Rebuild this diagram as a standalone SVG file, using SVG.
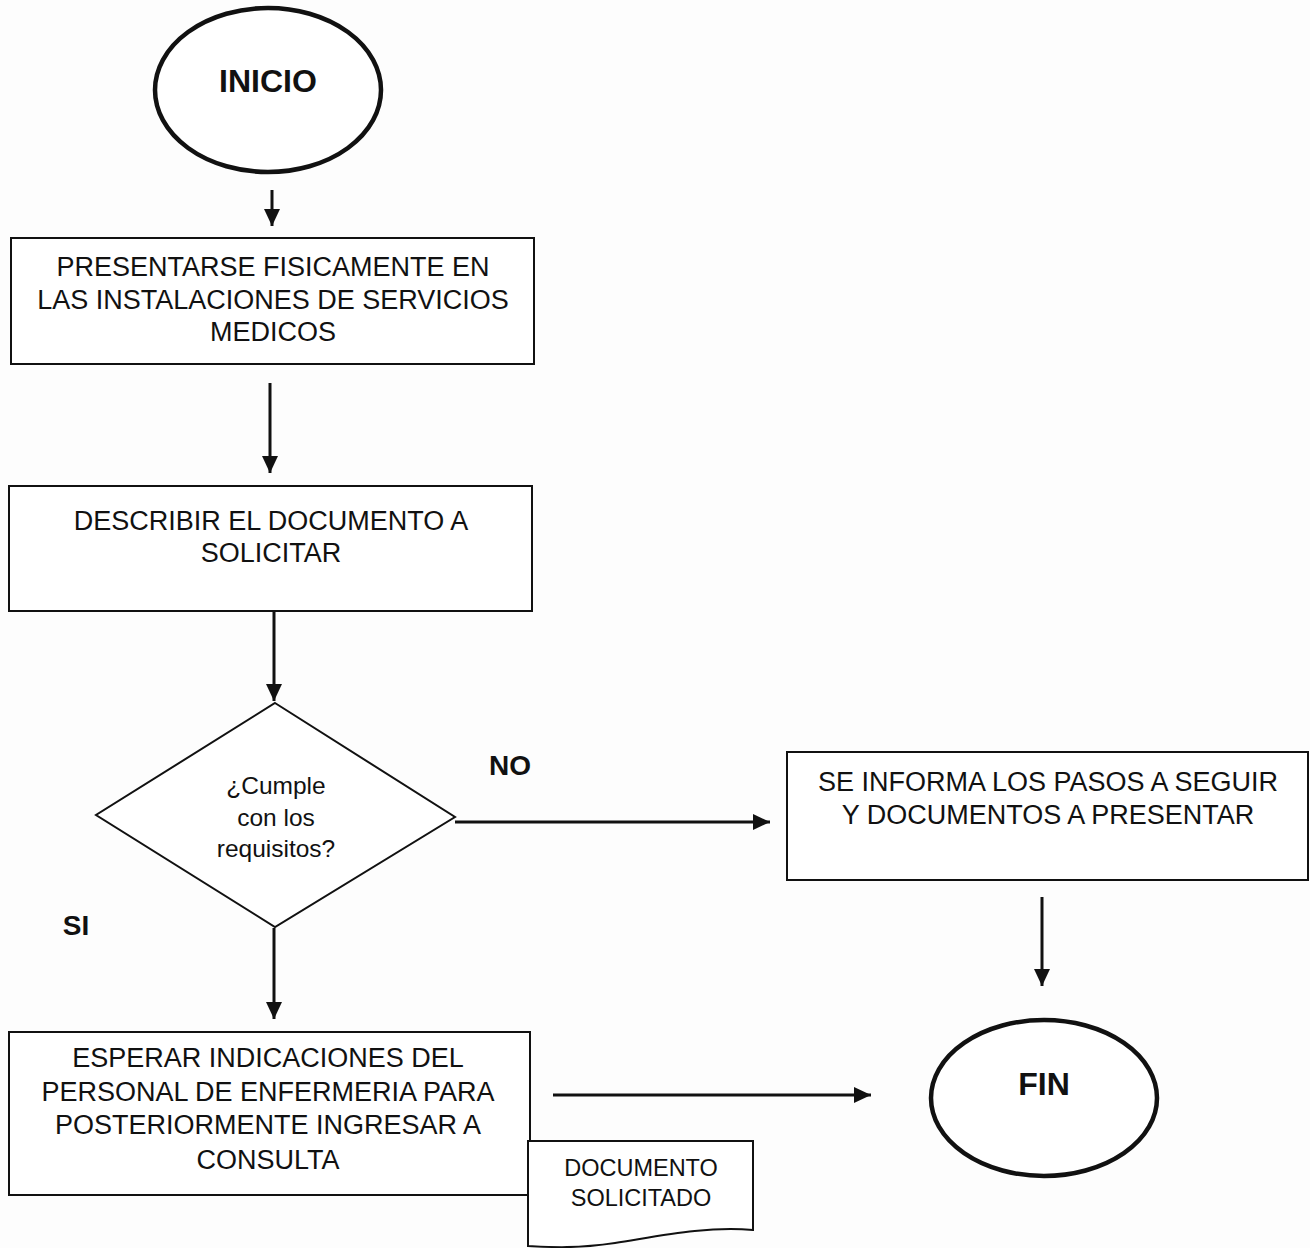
<svg xmlns="http://www.w3.org/2000/svg" width="1310" height="1248" viewBox="0 0 1310 1248">
<defs>
<marker id="ah" markerUnits="userSpaceOnUse" markerWidth="17" markerHeight="17" viewBox="0 0 17 17" refX="17" refY="8.5" orient="auto">
<path d="M0,0.5 L17,8.5 L0,16.5 Z" fill="#111"/>
</marker>
</defs>
<style>
.bg{fill:#fdfdfd}
.box{fill:#fff;stroke:#111;stroke-width:2}
.term{fill:#fff;stroke:#111;stroke-width:4.5}
.t{font-family:"Liberation Sans",Arial,sans-serif;font-size:27px;fill:#111;text-anchor:middle}
.d{font-family:"Liberation Sans",Arial,sans-serif;font-size:24.5px;fill:#111;text-anchor:middle}
.s{font-family:"Liberation Sans",Arial,sans-serif;font-size:23.5px;fill:#111;text-anchor:middle}
.b{font-family:"Liberation Sans",Arial,sans-serif;font-weight:bold;fill:#111;text-anchor:middle}
.c{stroke:#111;stroke-width:3;fill:none;marker-end:url(#ah)}
</style>
<rect class="bg" x="0" y="0" width="1310" height="1248"/>
<g id="inicio">
<ellipse class="term" cx="268" cy="90" rx="113" ry="82"/>
<text class="b" x="268" y="91.5" font-size="32">INICIO</text>
</g>
<g id="presentarse">
<rect class="box" x="11" y="238" width="523" height="126"/>
<text class="t" x="273" y="276">PRESENTARSE FISICAMENTE EN</text>
<text class="t" x="273" y="309">LAS INSTALACIONES DE SERVICIOS</text>
<text class="t" x="273" y="341">MEDICOS</text>
</g>
<g id="describir">
<rect class="box" x="9" y="486" width="523" height="125"/>
<text class="t" x="271" y="530">DESCRIBIR EL DOCUMENTO A</text>
<text class="t" x="271" y="562">SOLICITAR</text>
</g>
<g id="decision">
<polygon class="box" points="275,703 455,817 275,927 96,815"/>
<text class="d" x="276" y="794">¿Cumple</text>
<text class="d" x="276" y="826">con los</text>
<text class="d" x="276" y="857">requisitos?</text>
</g>
<g id="informa">
<rect class="box" x="787" y="752" width="521" height="128"/>
<text class="t" x="1048" y="791">SE INFORMA LOS PASOS A SEGUIR</text>
<text class="t" x="1048" y="824">Y DOCUMENTOS A PRESENTAR</text>
</g>
<g id="esperar">
<rect class="box" x="9" y="1032" width="521" height="163"/>
<text class="t" x="268" y="1067">ESPERAR INDICACIONES DEL</text>
<text class="t" x="268" y="1101">PERSONAL DE ENFERMERIA PARA</text>
<text class="t" x="268" y="1134">POSTERIORMENTE INGRESAR A</text>
<text class="t" x="268" y="1169">CONSULTA</text>
</g>
<g id="documento">
<path class="box" d="M528,1141 H753 V1230 C705,1226 660,1236 615,1243 C575,1249 548,1247 528,1246 Z"/>
<text class="s" x="641" y="1175.5">DOCUMENTO</text>
<text class="s" x="641" y="1206">SOLICITADO</text>
</g>
<g id="fin">
<ellipse class="term" cx="1044" cy="1098" rx="113" ry="78"/>
<text class="b" x="1044" y="1094.5" font-size="32">FIN</text>
</g>
<g id="labels">
<text class="b" x="510" y="775" font-size="28">NO</text>
<text class="b" x="76" y="935" font-size="28">SI</text>
</g>
<g id="connectors">
<line class="c" x1="272" y1="190" x2="272" y2="226"/>
<line class="c" x1="270" y1="383" x2="270" y2="473"/>
<line class="c" x1="274" y1="611" x2="274" y2="701"/>
<line class="c" x1="455" y1="822" x2="770" y2="822"/>
<line class="c" x1="274" y1="928" x2="274" y2="1019"/>
<line class="c" x1="1042" y1="897" x2="1042" y2="986"/>
<line class="c" x1="553" y1="1095" x2="871" y2="1095"/>
</g>
</svg>
